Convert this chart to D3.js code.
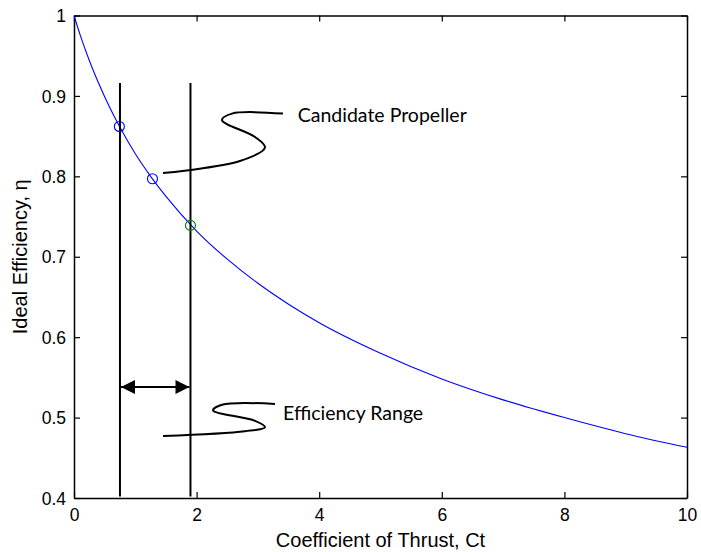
<!DOCTYPE html>
<html><head><meta charset="utf-8">
<script src="https://cdn.jsdelivr.net/npm/d3@7/dist/d3.min.js"></script>
<style>body{margin:0;background:#fff}svg{display:block}</style>
</head><body><script>
// Curve readings: Coefficient of thrust vs ideal efficiency
const ct  = [0, 0.1, 0.25, 0.5, 0.75, 1, 1.25, 1.5, 2, 2.5, 3, 3.5, 4, 5, 6, 7, 8, 9, 10];
const eta = [1, 0.976, 0.944, 0.899, 0.861, 0.828, 0.800, 0.775, 0.732, 0.697, 0.667, 0.641, 0.618, 0.580, 0.548, 0.522, 0.500, 0.480, 0.463];
// Marked propellers
const markCt  = [0.74, 1.28, 1.90];
const markEta = [0.862, 0.797, 0.739];
const markColor = ["#0000ff", "#0000ff", "#008000"];
// Range limits
const rangeCt = [0.75, 1.90];
const rangeEta = [0.916, 0.402];
const arrowEta = 0.538;
// Annotation squiggles (data coords)
const candX = [1.452, 2.708, 3.116, 2.953, 2.414, 2.577, 3.409];
const candY = [0.804, 0.819, 0.836, 0.849, 0.870, 0.878, 0.878];
const effX  = [1.452, 2.790, 3.116, 2.953, 2.268, 2.414, 3.279];
const effY  = [0.477, 0.483, 0.488, 0.496, 0.509, 0.516, 0.517];
const xTicks = [0, 2, 4, 6, 8, 10];
const yTicks = [0.4, 0.5, 0.6, 0.7, 0.8, 0.9, 1];

const W = 701, H = 552;
const m = {l: 74, r: 14, t: 15.5, b: 54};
const svg = d3.select("body").append("svg").attr("width", W).attr("height", H);
const x = d3.scaleLinear().domain([0, 10]).range([m.l, W - m.r]);
const y = d3.scaleLinear().domain([0.4, 1]).range([H - m.b, m.t]);

const tickFont = "Liberation Sans, Arial, sans-serif";
// axes
const gx = svg.append("g").attr("transform", `translate(0,${H - m.b})`)
  .call(d3.axisBottom(x).tickValues(xTicks).tickFormat(d3.format("d")).tickSizeInner(-6).tickSizeOuter(0).tickPadding(11));
const gxt = svg.append("g").attr("transform", `translate(0,${m.t})`)
  .call(d3.axisTop(x).tickValues(xTicks).tickFormat("").tickSizeInner(-6).tickSizeOuter(0));
const gy = svg.append("g").attr("transform", `translate(${m.l},0)`)
  .call(d3.axisLeft(y).tickValues(yTicks).tickFormat(d => d === 1 ? "1" : d3.format(".1f")(d)).tickSizeInner(-6).tickSizeOuter(0).tickPadding(8));
const gyr = svg.append("g").attr("transform", `translate(${W - m.r},0)`)
  .call(d3.axisRight(y).tickValues(yTicks).tickFormat("").tickSizeInner(-6).tickSizeOuter(0));
[gx, gxt, gy, gyr].forEach(g => {
  g.select(".domain").attr("stroke", "#000").attr("stroke-width", 1.5);
  g.selectAll(".tick line").attr("stroke", "#000").attr("stroke-width", 1.2);
  g.selectAll("text").attr("font-family", tickFont).attr("font-size", 17.5).attr("fill", "#000");
});
gy.selectAll(".tick text").attr("dy", "0.35em");

// curve
const pts = ct.map((c, i) => [c, eta[i]]);
svg.append("path").datum(pts)
  .attr("d", d3.line().x(d => x(d[0])).y(d => y(d[1])).curve(d3.curveMonotoneX))
  .attr("fill", "none").attr("stroke", "#0000ff").attr("stroke-width", 1.1);

// vertical range lines
svg.selectAll(".vl").data(rangeCt).join("line")
  .attr("x1", d => x(d)).attr("x2", d => x(d))
  .attr("y1", y(rangeEta[0])).attr("y2", y(rangeEta[1]))
  .attr("stroke", "#000").attr("stroke-width", 2);

// double arrow
const defs = svg.append("defs");
defs.append("marker").attr("id", "ah").attr("viewBox", "0 0 10 10").attr("refX", 10).attr("refY", 5)
  .attr("markerWidth", 15).attr("markerHeight", 14).attr("markerUnits", "userSpaceOnUse").attr("orient", "auto-start-reverse")
  .append("path").attr("d", "M0,0 L10,5 L0,10 Z").attr("fill", "#000");
svg.append("line")
  .attr("x1", x(rangeCt[0]) + 1).attr("x2", x(rangeCt[1]) - 1)
  .attr("y1", y(arrowEta)).attr("y2", y(arrowEta))
  .attr("stroke", "#000").attr("stroke-width", 2)
  .attr("marker-start", "url(#ah)").attr("marker-end", "url(#ah)");

// markers
svg.selectAll(".mk").data(markCt).join("circle")
  .attr("cx", d => x(d)).attr("cy", (d, i) => y(markEta[i])).attr("r", 5)
  .attr("fill", "none").attr("stroke", (d, i) => markColor[i]).attr("stroke-width", 1.1);

// squiggles
const sq = d3.line().x(d => x(d[0])).y(d => y(d[1])).curve(d3.curveCatmullRom.alpha(0.5));
[[candX, candY], [effX, effY]].forEach(([xs, ys]) => {
  svg.append("path").datum(xs.map((v, i) => [v, ys[i]])).attr("d", sq)
    .attr("fill", "none").attr("stroke", "#000").attr("stroke-width", 2);
});

const annFont = "Lato, 'Open Sans', sans-serif";
svg.append("text").attr("x", x(3.65)).attr("y", y(0.876)).attr("dy", "0.35em")
  .attr("font-family", annFont).attr("font-size", 19.5).text("Candidate Propeller");
svg.append("text").attr("x", x(3.41)).attr("y", y(0.505)).attr("dy", "0.35em")
  .attr("font-family", annFont).attr("font-size", 19.5).text("Efficiency Range");

// axis labels
svg.append("text").attr("x", (m.l + W - m.r) / 2).attr("y", H - 5)
  .attr("text-anchor", "middle").attr("font-family", tickFont).attr("font-size", 20).text("Coefficient of Thrust, Ct");
svg.append("text").attr("transform", `translate(27,${(m.t + H - m.b) / 2}) rotate(-90)`)
  .attr("text-anchor", "middle").attr("font-family", tickFont).attr("font-size", 20).text("Ideal Efficiency, η");
</script></body></html>
